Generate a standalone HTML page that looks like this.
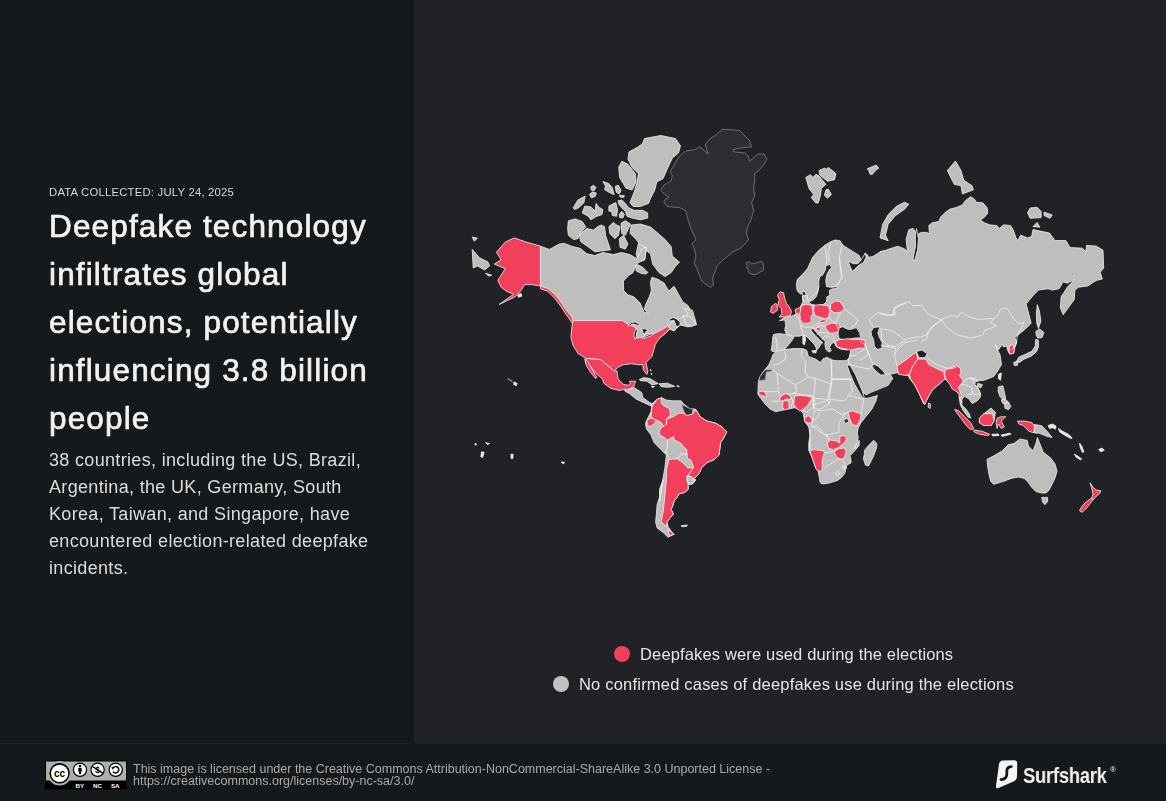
<!DOCTYPE html>
<html><head><meta charset="utf-8">
<style>
html,body{margin:0;padding:0;}
.date,.title,.body,.leg,.lic{will-change:transform;}
body{width:1166px;height:801px;overflow:hidden;background:#16191c;font-family:"Liberation Sans",sans-serif;position:relative;}
#left{position:absolute;left:0;top:0;width:414px;height:743px;background:#16191c;}
#right{position:absolute;left:414px;top:0;width:752px;height:743px;background:#212226;}
#sep{position:absolute;left:0;top:743px;width:1166px;height:1.3px;background:#1e2124;}
#footer{position:absolute;left:0;top:744.3px;width:1166px;height:57px;background:#16191c;}
.date{position:absolute;left:49px;top:185.6px;font-size:11.3px;color:#d8d8d8;letter-spacing:0.22px;white-space:nowrap;}
.title{position:absolute;left:49px;top:201.6px;font-size:31.5px;line-height:48px;font-weight:normal;color:#f2f2f2;-webkit-text-stroke:0.7px #f2f2f2;letter-spacing:1.15px;white-space:nowrap;}
.body{position:absolute;left:49px;top:447.2px;font-size:18px;line-height:27px;color:#dcdcdc;letter-spacing:0.33px;white-space:nowrap;}
.leg{position:absolute;font-size:16.5px;color:#e6e6e6;letter-spacing:0.15px;white-space:nowrap;}
.dot{position:absolute;width:16px;height:16px;border-radius:50%;}
.g{fill:#bebebe;stroke:#f0f0f0;stroke-width:0.8;stroke-linejoin:round}
.r{fill:#f2405c;stroke:#f0f0f0;stroke-width:0.8;stroke-linejoin:round}
.gl{fill:#2d2e33;stroke:#9c9c9c;stroke-width:0.6;stroke-linejoin:round}
.bay{fill:#212226;stroke:#f0f0f0;stroke-width:0.8;stroke-linejoin:round}
.w{fill:#e8e8e8;stroke:#f0f0f0;stroke-width:0.8}
.bayns{fill:#212226;stroke:none}
.b{fill:none;stroke:#f0f0f0;stroke-width:0.8;stroke-linejoin:round}
.lic{position:absolute;left:133px;top:763px;font-size:12.5px;line-height:12.4px;color:#a9a9a9;white-space:nowrap;}
</style></head>
<body>
<div id="left">
  <div class="date">DATA COLLECTED: JULY 24, 2025</div>
  <div class="title">Deepfake technology<br>infiltrates global<br>elections, potentially<br>influencing 3.8 billion<br>people</div>
  <div class="body">38 countries, including the US, Brazil,<br>Argentina, the UK, Germany, South<br>Korea, Taiwan, and Singapore, have<br>encountered election-related deepfake<br>incidents.</div>
</div>
<div id="right">
  <svg id="map" width="752" height="742" viewBox="414 0 752 742" style="position:absolute;left:0;top:0">
<path class="gl" d="M722.8,129.3 739.2,130.3 749.5,140.6 751.6,146.8 741.3,147.8 733.1,149.9 734.1,151.9 745.4,153.0 748.5,156.1 749.5,161.2 757.8,154.0 764.0,154.0 767.0,159.1 764.0,164.3 758.8,170.5 754.7,173.6 754.7,179.7 753.7,188.0 754.7,196.2 751.6,202.4 753.7,210.6 750.6,220.9 747.5,227.1 746.4,233.3 748.5,239.5 745.4,243.6 741.3,247.7 733.1,251.9 722.8,260.1 716.6,266.3 716.8,266.7 712.7,277.7 713.4,285.2 710.6,287.3 705.1,283.8 701.7,281.1 696.9,268.7 694.1,263.2 696.0,256.0 693.9,247.7 691.9,243.6 696.0,239.5 691.9,231.2 687.7,218.9 685.7,210.6 679.5,207.6 667.1,206.5 664.0,202.4 665.1,199.3 669.2,197.3 663.0,193.1 660.9,190.0 663.0,185.9 671.2,180.8 672.3,175.6 670.2,171.5 673.3,166.4 678.5,157.1 685.7,150.9 693.9,149.9 700.1,146.8 708.3,154.0 705.2,144.7 710.4,138.5 716.6,134.4Z"/>
<path class="g" d="M644.5,138.5 660.9,135.5 675.4,138.5 680.5,145.8 678.5,153.0 672.3,158.1 667.1,169.4 663.0,178.7 656.8,181.8 654.8,190.0 650.6,198.3 648.6,203.4 640.3,206.5 633.1,206.5 630.0,202.4 634.2,192.1 637.3,181.8 638.3,173.6 632.1,167.4 628.0,159.1 629.0,151.9 638.3,146.8 642.4,143.7Z"/>
<path class="g" d="M621.8,161.2 628.0,164.3 635.2,173.6 636.2,181.8 632.1,190.0 625.9,188.0 619.7,177.7 618.7,167.4Z"/>
<path class="g" d="M631.1,225.1 640.3,224.0 650.6,227.1 656.8,232.3 665.1,239.5 671.2,246.7 672.3,256.0 679.5,262.2 675.4,266.3 671.2,272.5 665.1,276.6 658.9,272.5 652.7,264.2 650.6,253.9 642.4,247.7 636.2,239.5 630.0,233.3Z"/>
<path class="g" d="M638.3,243.6 646.5,247.7 644.5,260.1 638.3,262.2 636.2,253.9Z"/>
<path class="g" d="M540.8,246.4 549.5,249.4 558.7,244.3 563.9,243.3 572.1,246.4 580.4,248.4 586.5,253.6 594.8,255.6 603.0,252.5 613.3,254.6 621.6,252.5 629.8,254.6 637.0,258.7 642.2,248.4 646.3,247.0 644.9,259.3 638.7,262.4 636.2,264.9 633.1,272.5 628.6,275.6 623.4,281.0 623.6,290.6 627.8,294.8 633.9,296.8 640.1,303.0 644.2,312.3 648.4,313.3 644.2,309.2 646.3,303.0 649.4,296.8 651.4,290.6 650.4,282.4 651.9,277.3 658.0,279.3 664.2,283.2 668.7,291.1 674.1,286.3 682.8,302.0 687.5,305.1 691.6,311.2 689.6,319.5 688.3,326.8 680.1,324.7 673.9,330.9 669.8,328.8 665.7,333.0 659.5,338.1 636.8,341.2 622.4,320.6 573.0,320.6 570.1,317.4 565.9,313.3 561.8,307.1 557.7,300.9 553.6,294.8 547.4,288.6 540.8,285.5Z"/>
<path class="g" d="M667.7,325.8 676.0,319.6 684.2,316.5 688.3,314.4 684.2,308.2 692.5,310.3 696.6,324.7 688.3,326.8 680.1,324.7 673.9,330.9 669.8,328.8Z"/>
<path class="g" d="M683.4,315.4 691.6,317.4 695.7,323.6 691.6,326.7 685.4,323.6Z"/>
<path class="g" d="M472.2,249.4 479.4,257.7 487.7,261.8 489.7,265.9 484.6,270.0 477.4,265.9 473.2,268.0Z"/>
<path class="g" d="M472.2,237.1 477.4,238.1 474.3,241.2Z"/>
<path class="g" d="M485.6,273.1 491.8,275.2 488.7,276.2Z"/>
<path class="r" d="M514.3,237.9 525.9,242.0 540.4,246.1 540.4,285.9 531.4,284.6 524.6,284.6 520.4,291.4 514.9,296.9 499.1,304.5 513.6,294.2 506.7,291.4 501.2,287.3 497.8,280.4 501.2,274.9 505.3,268.8 494.3,264.0 501.2,259.8 496.4,252.3 505.3,242.0Z"/>
<path class="r" d="M540.4,285.9 547.9,288.7 554.8,294.2 560.3,301.0 565.8,309.3 571.3,316.2 574.7,324.4 572.0,323.0 566.5,314.8 561.0,306.5 554.8,298.3 547.9,291.4 540.4,288.7Z"/>
<path class="w" d="M517.7,294.9 521.1,293.5 521.8,296.2 518.4,297.2Z"/>
<path class="r" d="M573.0,320.6 622.4,320.6 628.6,324.7 634.8,326.8 636.8,330.9 635.8,338.1 643.0,337.1 647.1,334.0 655.4,333.0 663.6,328.8 667.7,325.8 669.8,328.8 665.7,333.0 659.5,338.1 655.4,344.3 653.3,351.5 652.0,356.5 645.9,362.6 647.9,370.9 646.9,374.5 643.3,369.8 642.8,364.7 637.6,364.7 631.5,363.7 623.2,364.7 618.1,367.3 614.0,370.9 607.8,365.7 600.6,359.6 586.2,358.5 578.1,353.6 573.0,345.3 570.9,337.1 571.9,326.8Z"/>
<path class="r" d="M586.2,358.5 600.6,359.6 607.8,365.7 614.0,370.9 617.0,370.9 618.1,379.1 623.2,384.3 628.4,385.3 630.4,383.2 629.4,381.2 635.6,381.2 633.5,387.3 628.4,389.4 624.3,389.4 619.1,390.4 610.9,388.4 603.7,383.2 602.6,379.1 595.4,372.9 589.3,364.7 586.2,360.6Z"/>
<path class="r" d="M584.6,359.0 588.2,362.1 592.3,369.8 597.0,377.6 595.4,378.3 590.3,371.9 586.2,365.2Z"/>
<path class="g" d="M624.3,389.4 628.4,389.4 633.5,387.3 641.7,392.5 642.8,397.6 650.0,402.8 654.1,404.3 652.0,406.4 641.7,401.7 635.6,398.7 629.4,393.5 625.3,391.5Z"/>
<path class="g" d="M639.2,379.6 643.8,377.6 650.0,378.6 655.1,381.7 658.2,383.7 652.0,384.8 646.9,381.2 640.7,380.7Z"/>
<path class="g" d="M659.2,383.7 667.5,383.2 674.7,386.3 668.5,387.3 661.3,386.8Z"/>
<path class="w" d="M651.0,386.3 654.6,386.5 653.1,387.5Z"/>
<path class="w" d="M676.7,385.8 679.3,386.1 678.3,387.1Z"/>
<path class="w" d="M650.0,369.8 651.2,370.1 651.0,370.9Z"/>
<path class="w" d="M651.0,373.4 652.0,373.8 651.6,374.8Z"/>
<path class="g" d="M651.0,404.7 657.1,399.3 661.8,397.7 666.4,400.1 672.6,400.8 681.1,400.8 683.5,403.9 689.6,408.6 695.8,409.3 700.5,417.1 706.7,421.0 716.0,423.3 722.2,427.1 726.8,431.8 723.7,438.0 720.6,442.6 719.1,455.0 714.4,459.6 706.7,462.7 702.0,467.4 698.9,473.6 694.3,478.2 695.8,480.0 692.7,483.9 688.1,484.6 688.1,489.3 685.0,492.4 678.8,493.9 677.3,497.0 674.2,500.9 672.6,506.3 671.1,509.4 673.4,514.1 669.5,518.7 667.2,521.8 668.0,526.4 671.1,531.1 674.2,534.2 668.0,537.3 663.3,532.6 657.1,528.0 655.6,521.8 656.4,514.1 657.1,504.8 659.5,497.0 659.5,489.3 661.8,483.1 663.3,480.0 659.5,501.4 661.0,489.1 663.3,476.7 664.9,467.4 666.4,455.0 660.2,448.8 654.1,442.6 651.0,434.9 646.3,428.7 645.5,423.3 647.9,417.9 651.0,411.7 651.7,407.0Z"/>
<path class="gl" d="M681.9,404.7 688.1,407.8 692.7,409.3 692.0,414.8 686.6,415.5 684.2,411.7Z"/>
<path class="r" d="M651.7,407.0 657.1,399.3 661.8,397.7 661.0,402.4 663.3,405.5 669.5,408.6 670.3,414.8 666.4,419.4 666.4,425.6 664.1,427.1 661.8,423.3 658.7,421.0 654.1,419.4 651.0,416.3 651.7,411.7Z"/>
<path class="r" d="M647.1,420.2 651.7,417.9 655.6,420.2 654.8,423.3 650.2,426.4 647.1,424.8Z"/>
<path class="r" d="M666.4,419.4 674.2,416.3 678.8,413.2 683.5,413.2 686.6,415.5 692.7,414.0 695.8,410.1 700.5,417.1 706.7,421.0 716.0,423.3 722.2,427.1 726.8,431.8 723.7,438.0 720.6,442.6 719.1,455.0 714.4,459.6 706.7,462.7 702.0,467.4 698.9,473.6 694.3,478.2 691.2,481.3 688.1,475.3 693.6,467.4 690.8,459.8 687.4,458.5 686.7,449.5 684.0,447.5 681.2,443.4 674.3,439.9 673.7,436.5 667.5,439.9 664.0,437.2 660.6,435.8 659.2,432.4 660.6,428.2 666.8,424.1Z"/>
<path class="r" d="M668.8,459.8 672.3,459.1 677.8,459.1 682.6,462.6 688.1,468.1 693.6,467.4 688.1,475.3 688.1,475.9 686.6,479.8 688.1,484.6 688.1,489.3 685.0,492.4 678.8,493.9 677.3,497.0 674.2,500.9 672.6,506.3 671.1,509.4 673.4,514.1 669.5,518.7 667.2,521.8 666.4,526.4 661.0,521.8 663.3,511.0 664.9,495.5 666.4,480.0 666.4,470.5Z"/>
<path class="r" d="M668.0,529.5 674.2,534.2 669.5,535.7Z"/>
<path class="g" d="M686.6,475.9 692.0,476.7 694.3,481.3 691.2,484.4 688.1,482.9Z"/>
<path class="b" d="M667.5,439.9 667.5,446.1 666.1,451.6 669.5,459.8"/>
<path class="b" d="M678.5,458.5 681.2,453.7 687.4,454.3"/>
<path class="b" d="M666.1,451.6 664.0,452.3"/>
<path class="g" d="M681.1,525.7 687.3,524.9 686.6,526.4 681.9,526.7Z"/>
<path class="g" d="M776.5,350.8 785.1,349.5 793.8,348.6 802.4,348.6 806.7,350.3 808.4,356.4 815.3,358.9 820.5,362.4 823.0,358.9 827.4,357.2 830.8,359.8 836.8,360.7 846.3,360.7 849.7,357.2 850.3,354.3 848.5,363.7 849.9,370.6 855.4,378.8 859.5,385.7 862.3,391.2 864.3,397.4 866.4,398.1 871.9,396.7 877.4,395.3 876.0,400.8 871.9,409.1 866.4,415.9 860.9,422.8 858.1,428.3 857.4,432.4 858.1,437.9 856.8,443.4 854.0,448.9 859.2,440.3 859.2,445.4 854.1,451.6 850.0,455.7 851.0,459.8 851.0,462.9 846.9,465.0 845.9,469.1 844.8,473.2 841.7,477.3 837.6,480.4 829.4,483.0 822.2,484.0 820.1,482.5 819.1,476.3 818.1,471.2 815.0,466.0 812.9,459.8 810.9,454.7 808.8,450.6 808.8,445.4 809.8,441.3 810.9,436.2 809.8,430.0 810.1,450.3 808.7,443.4 810.1,435.2 808.7,426.9 804.6,421.4 803.2,413.2 800.4,410.4 794.9,407.7 788.1,409.1 781.2,410.4 775.7,411.8 770.2,409.1 764.7,403.6 760.6,398.1 757.9,394.0 758.4,381.3 760.2,376.2 764.5,370.1 768.8,365.0 771.4,358.9 773.1,354.6Z"/>
<path class="g" d="M864.4,450.6 868.5,445.4 873.7,440.3 876.7,443.4 876.7,447.5 873.7,455.7 870.6,461.9 868.5,466.0 865.4,465.0 863.4,458.8 864.4,453.7Z"/>
<path class="gl" d="M759.3,380.5 760.2,376.2 765.3,370.1 772.2,369.7 771.4,371.0 766.2,371.9 765.3,379.6 760.2,380.5Z"/>
<path class="b" d="M830.7,358.2 832.0,378.8 829.3,399.5 812.8,398.1 814.2,411.8 816.9,410.4 827.9,404.9 830.7,399.5 844.4,400.8 848.5,395.3 852.6,391.2 849.9,378.8 832.0,378.8"/>
<path class="b" d="M848.5,395.3 863.6,399.5 860.9,414.6"/>
<path class="b" d="M814.2,411.8 811.4,426.9 816.9,425.5 825.2,435.2 838.9,432.4 838.9,422.8 844.4,414.6 848.5,411.8"/>
<path class="b" d="M825.2,435.2 830.7,440.7"/>
<path class="b" d="M824.3,452.6 833.5,451.6"/>
<path class="b" d="M824.3,468.1 830.4,464.0 837.6,459.8 841.7,457.8"/>
<path class="b" d="M841.7,457.8 844.8,464.0 845.9,469.1"/>
<path class="bay" d="M843.7,419.4 847.8,418.7 848.8,422.1 845.1,423.5Z"/>
<path class="r" d="M809.8,450.6 814.0,449.6 823.2,450.6 824.3,452.6 822.2,459.8 822.2,470.7 819.1,471.2 816.0,469.1 814.0,462.9 811.9,456.8Z"/>
<path class="g" d="M848.5,363.7 855.4,362.4 863.6,365.1 871.9,366.5 876.0,370.6 882.9,374.0 888.1,372.7 891.1,375.4 892.9,379.1 888.4,385.7 878.7,389.8 871.9,392.6 866.4,395.3 862.3,391.2 858.1,383.0 852.6,373.4Z"/>
<path class="g" d="M773.6,351.7 771.2,350.8 772.1,344.8 772.8,337.0 773.6,334.5 778.8,333.6 786.5,334.5 784.8,330.1 785.7,325.0 784.8,319.8 779.6,320.7 784.8,317.2 790.8,316.4 795.1,314.6 797.7,312.9 799.5,308.6 801.2,305.2 802.9,301.7 802.4,296.0 814.5,296.0 835.1,240.0 842.0,244.3 845.5,246.9 852.4,251.2 859.2,255.5 861.0,259.8 857.5,263.3 853.2,263.3 848.9,261.5 849.8,265.8 852.4,271.0 854.9,268.4 859.2,265.0 862.7,262.4 865.3,252.9 869.6,257.2 873.0,256.4 880.0,252.1 880.0,251.6 885.5,250.3 893.7,247.5 897.9,246.2 904.7,248.9 907.5,251.6 906.1,239.3 908.8,229.7 913.0,228.3 915.7,232.4 917.1,237.9 918.5,233.8 921.2,232.4 926.7,232.4 929.5,233.8 928.8,225.5 932.2,222.8 939.1,221.4 940.4,217.3 945.9,211.8 950.1,209.1 955.5,207.7 962.4,204.9 965.2,200.8 970.7,196.7 974.8,199.5 976.2,202.2 983.0,202.9 987.1,207.7 987.8,213.2 984.4,217.3 980.3,220.1 984.4,222.8 989.9,224.9 996.8,225.5 999.5,228.3 1003.6,224.9 1010.5,225.5 1013.2,229.7 1016.0,237.9 1017.9,240.6 1020.6,235.1 1027.5,237.9 1031.6,236.5 1033.0,229.6 1049.5,233.0 1054.9,240.6 1065.9,240.6 1070.1,247.5 1082.4,248.2 1085.9,251.6 1086.5,245.4 1096.2,246.1 1103.0,250.2 1103.7,268.1 1100.3,272.2 1102.3,279.1 1096.2,280.4 1087.9,285.9 1078.3,287.3 1074.9,290.1 1074.2,299.7 1070.1,305.2 1063.2,314.8 1060.4,307.9 1061.1,296.9 1067.3,287.3 1074.9,279.1 1067.3,283.2 1063.2,281.8 1059.1,288.7 1052.2,290.1 1048.1,288.7 1038.5,290.1 1034.3,294.2 1026.1,303.8 1031.2,323.2 1025.0,329.4 1019.8,333.5 1014.7,337.6 1016.8,341.7 1014.7,347.9 1013.7,353.1 1009.6,354.1 1007.5,350.0 1006.5,345.9 1003.4,346.9 1002.3,343.8 1001.3,345.9 998.2,350.0 996.2,346.9 995.1,344.8 996.0,345.3 997.4,349.5 1000.1,354.9 1001.5,364.6 997.4,371.4 995.3,374.4 993.7,376.5 986.0,379.6 982.9,380.6 978.8,380.3 975.2,382.6 974.7,384.7 976.8,386.8 978.8,389.3 980.4,392.9 980.9,396.0 978.8,399.1 976.8,401.2 972.1,403.6 969.2,399.2 964.8,396.3 961.9,399.2 961.9,405.1 966.3,409.4 969.2,413.8 970.7,418.2 967.7,416.7 963.4,410.9 960.4,405.1 959.0,396.3 961.6,403.0 960.3,396.2 956.2,390.7 953.4,386.5 949.3,379.7 946.5,376.9 943.8,379.7 939.7,383.8 932.8,389.3 928.7,396.2 924.6,404.4 923.2,403.0 919.1,393.4 914.9,385.2 909.5,378.3 908.1,375.5 899.8,372.8 897.1,372.8 890.2,374.2 884.7,374.2 877.9,368.7 872.4,364.6 869.5,369.3 851.6,365.2 848.2,361.0 850.3,353.4 850.3,349.1 846.8,350.0 840.8,349.1 836.5,346.9 833.9,342.2 831.3,343.9 829.6,347.4 831.3,350.8 828.7,352.1 825.7,349.1 824.9,343.9 825.3,341.3 822.3,338.8 818.0,334.0 812.8,328.4 810.7,330.1 815.0,335.3 819.3,339.6 822.7,342.6 820.6,344.8 818.4,348.2 816.7,350.0 815.8,346.9 813.2,343.1 808.9,338.8 804.6,334.5 799.5,336.2 794.3,336.2 792.6,339.6 790.0,343.1 784.8,349.1 777.9,350.8Z"/>
<path class="g" d="M797.2,279.6 802.4,274.5 807.6,268.4 812.7,257.2 818.8,250.3 824.8,245.2 830.8,241.7 835.1,240.0 840.3,240.9 842.0,244.3 839.4,257.2 840.3,265.8 842.0,277.0 838.6,283.1 836.0,286.5 831.7,288.2 826.5,287.4 824.8,293.4 820.5,296.0 817.9,299.4 814.5,302.0 811.0,302.9 808.4,300.3 806.7,295.1 805.0,291.7 800.7,294.3 797.2,290.8 796.4,284.8Z"/>
<path class="bay" d="M825.7,265.8 830.0,264.5 831.7,267.6 829.1,270.1 826.9,274.5 825.7,280.5 826.5,286.5 831.7,287.4 836.8,286.5 837.3,288.2 831.7,289.1 829.1,290.8 830.0,295.1 826.9,296.8 826.5,302.0 823.1,304.6 816.2,305.5 811.0,304.2 808.4,302.0 812.7,300.3 816.2,296.8 817.9,291.7 818.8,286.5 818.8,281.3 819.6,277.0 823.1,274.5 825.7,269.3Z"/>
<path class="bay" d="M801.5,291.7 805.0,291.7 807.6,298.6 805.8,299.4 803.3,296.0Z"/>
<path class="g" d="M802.4,296.0 805.8,295.1 807.6,300.3 805.8,302.0 803.3,300.3Z"/>
<path class="bay" d="M848.0,261.1 853.2,263.7 858.0,263.7 861.4,259.8 865.3,252.9 866.1,257.2 863.5,262.4 859.2,265.0 854.9,268.9 852.4,271.4 849.8,265.8Z"/>
<path class="bay" d="M871.0,331.6 873.7,327.5 879.9,326.8 877.9,333.0 879.2,337.1 882.0,342.6 882.0,348.1 877.9,349.5 874.4,346.7 873.7,339.8 871.7,335.7Z"/>
<path class="bay" d="M847.1,365.1 849.9,373.4 854.7,384.3 859.5,392.6 862.9,398.1 864.3,397.4 862.3,391.2 859.5,384.3 855.4,374.7 849.9,365.1Z"/>
<path class="bayns" d="M863.6,396.7 871.9,392.6 878.7,389.8 888.4,385.7 892.5,379.5 900.2,381.6 900.2,391.2 877.4,395.1 871.9,396.4 866.4,398.1Z"/>
<path class="bay" d="M872.4,363.9 877.9,365.9 884.0,372.1 885.4,374.9 880.6,374.9 876.5,371.4 873.0,368.0Z"/>
<path class="bay" d="M916.3,351.5 921.8,350.1 927.3,353.6 924.6,357.7 919.1,357.7Z"/>
<path class="g" d="M880.0,237.9 882.7,224.2 888.2,214.6 896.5,206.3 904.7,202.2 908.8,204.3 904.7,209.1 895.1,215.9 888.2,224.2 885.5,235.2 888.2,240.7Z"/>
<path class="g" d="M947.3,170.6 955.5,161.0 961.0,170.6 963.8,180.2 972.0,185.7 973.4,189.8 962.4,194.0 961.0,185.7 954.2,184.3 950.1,176.1Z"/>
<path class="g" d="M1027.5,212.8 1030.2,208.0 1037.1,207.3 1041.2,211.4 1041.2,217.6 1030.2,218.3Z"/>
<path class="g" d="M1044.0,212.1 1052.2,214.9 1050.1,218.3 1044.0,215.5Z"/>
<path class="g" d="M1033.0,226.5 1037.1,222.4 1039.8,227.2Z"/>
<path class="g" d="M1037.3,304.7 1039.4,310.9 1040.9,321.2 1038.4,328.4 1036.8,323.2 1036.3,314.0Z"/>
<path class="g" d="M1035.8,331.5 1039.4,328.9 1044.0,332.5 1042.0,337.6 1037.9,338.1 1036.3,335.6Z"/>
<path class="g" d="M1016.2,362.0 1018.8,357.2 1026.0,354.1 1032.2,351.0 1035.3,345.9 1035.8,339.2 1038.4,340.2 1038.4,346.9 1036.3,352.0 1031.2,356.2 1024.0,359.2 1019.8,362.3Z"/>
<path class="g" d="M1013.7,362.3 1018.3,361.3 1017.3,365.4 1014.2,365.4Z"/>
<path class="g" d="M998.4,386.8 1002.8,385.8 1004.3,391.9 1005.7,398.5 1002.8,399.9 999.9,396.3 998.1,391.2Z"/>
<path class="g" d="M1001.3,399.9 1005.0,399.2 1007.9,401.4 1006.5,404.3 1002.8,403.6Z"/>
<path class="g" d="M1004.3,402.9 1008.6,402.1 1010.8,406.5 1008.6,409.7 1005.0,408.3Z"/>
<path class="g" d="M977.7,383.4 982.4,384.6 980.9,387.8 977.2,386.4Z"/>
<path class="g" d="M979.4,418.2 983.8,413.8 991.1,408.0 995.5,412.4 994.0,421.1 991.1,425.5 983.8,425.5 979.4,422.6Z"/>
<path class="g" d="M987.0,459.4 995.1,455.1 1002.4,450.7 1008.2,444.8 1014.0,443.4 1019.9,439.0 1027.2,440.4 1028.6,446.3 1033.0,450.7 1035.9,443.4 1037.4,437.5 1040.3,444.8 1043.2,452.1 1050.6,458.0 1054.9,463.8 1057.1,471.1 1054.9,478.4 1052.0,484.3 1049.1,490.1 1046.2,493.0 1041.8,493.0 1035.9,491.6 1031.6,487.2 1028.6,482.8 1024.3,478.4 1018.4,477.0 1011.1,478.4 1003.8,481.3 993.6,484.3 990.7,481.3 989.2,475.5 987.7,466.7Z"/>
<path class="g" d="M1041.8,497.4 1047.6,497.4 1047.6,501.8 1044.7,504.7 1042.5,501.8Z"/>
<path class="g" d="M1034.5,424.4 1041.8,425.8 1047.6,431.7 1052.0,437.5 1046.2,436.1 1038.9,433.1 1034.5,433.1Z"/>
<path class="gl" d="M746.3,262.6 749.1,261.9 751.8,263.9 755.2,263.2 761.4,261.2 762.8,262.6 763.8,268.0 762.8,270.8 757.3,273.5 753.9,274.9 749.1,272.9 747.7,270.8 749.1,269.4 746.3,268.0 747.7,266.0 746.3,263.9Z"/>
<path class="r" d="M897.1,365.9 905.3,360.4 912.2,354.9 916.3,352.2 917.7,359.1 912.2,367.3 909.5,374.2 905.3,375.5 898.5,374.2Z"/>
<path class="r" d="M917.7,359.1 925.9,359.1 928.7,364.6 934.2,367.3 942.4,371.4 946.5,371.4 953.4,368.7 954.8,367.3 957.5,371.4 953.4,376.9 947.9,376.9 943.8,379.7 939.7,383.8 932.8,389.3 928.7,396.2 924.6,404.4 920.4,396.2 914.9,385.2 910.8,379.7 909.5,374.2 912.2,367.3Z"/>
<path class="r" d="M943.8,372.8 947.9,372.8 949.3,379.7 945.2,379.7Z"/>
<path class="r" d="M944.9,370.3 950.0,368.2 953.1,366.7 956.7,365.7 960.3,368.2 961.1,372.9 959.3,375.4 963.9,381.6 960.8,384.2 958.2,387.8 959.8,390.9 962.4,399.1 961.1,399.9 958.7,392.9 954.6,390.4 952.1,388.8 950.0,384.7 946.9,380.6 944.9,375.4Z"/>
<path class="r" d="M928.7,403.0 930.7,404.4 930.1,408.5 928.0,407.1Z"/>
<path class="r" d="M1009.6,345.9 1012.6,344.8 1014.7,347.9 1013.7,353.1 1010.1,354.1 1009.0,351.0Z"/>
<path class="w" d="M998.4,374.4 1001.3,372.9 1000.6,380.2 998.4,378.8Z"/>
<path class="r" d="M954.6,409.4 959.0,410.9 964.8,416.7 970.7,422.6 973.6,428.4 970.7,429.9 966.3,425.5 961.9,419.7 957.5,413.8Z"/>
<path class="r" d="M973.6,429.9 982.4,431.3 989.7,434.3 988.2,435.7 979.4,434.3 974.3,432.1Z"/>
<path class="r" d="M979.4,418.2 983.8,413.8 992.6,413.8 994.0,421.1 991.1,425.5 983.8,425.5 979.4,422.6Z"/>
<path class="r" d="M997.0,418.2 1001.3,416.7 1005.7,416.7 1001.3,421.1 1004.3,427.0 1001.3,428.4 998.4,424.0 997.0,428.4 996.2,422.6Z"/>
<path class="r" d="M1017.4,421.1 1024.7,421.1 1032.0,422.6 1034.9,427.0 1033.5,432.8 1029.1,431.3 1023.2,425.5 1018.9,424.0Z"/>
<path class="r" d="M1090.0,482.8 1093.6,487.9 1096.6,490.1 1100.9,490.8 1099.5,493.8 1095.8,496.7 1093.6,499.6 1091.4,498.9 1092.9,494.5 1092.2,490.1Z"/>
<path class="r" d="M1091.4,498.1 1092.9,500.0 1089.3,504.7 1085.6,509.1 1082.0,512.3 1079.5,510.6 1082.0,506.2 1086.3,501.8Z"/>
<path class="g" d="M805.8,177.4 810.5,174.7 812.8,177.4 815.9,174.3 819.0,175.9 826.0,184.4 821.3,188.3 820.5,195.2 818.2,203.0 815.9,203.0 811.3,197.6 813.6,194.5 808.9,188.3Z"/>
<path class="g" d="M819.0,170.5 824.4,168.2 826.7,168.9 828.3,167.4 836.0,173.6 834.5,179.8 827.5,181.3 823.6,178.2 819.8,175.1Z"/>
<path class="g" d="M824.4,195.2 826.0,189.8 828.3,189.1 831.4,194.5 827.5,198.3Z"/>
<path class="g" d="M867.0,168.9 872.4,166.6 876.3,165.1 878.6,168.2 875.5,170.5 872.4,174.3 870.1,174.3 868.5,169.7Z"/>
<path class="bay" d="M838.2,328.4 842.5,326.7 847.7,329.3 851.1,329.3 856.3,327.6 859.7,332.7 860.6,337.9 855.4,337.9 851.1,338.8 844.2,339.6 839.1,338.8 838.2,334.5Z"/>
<path class="w" d="M802.9,335.3 805.1,335.3 805.5,339.6 804.6,344.8 802.9,343.9Z"/>
<path class="w" d="M811.9,350.8 816.7,350.4 815.8,353.0 812.8,352.5Z"/>
<path class="b" d="M786.5,334.5 792.6,336.2"/>
<path class="b" d="M775.5,336.9 776.6,341.3 776.9,349.2"/>
<path class="b" d="M795.1,314.6 799.5,319.8 800.3,325.0 801.2,328.4 802.9,331.0 802.9,334.5"/>
<path class="b" d="M800.3,325.0 805.5,327.6 811.5,326.7 816.7,324.1 820.1,322.8"/>
<path class="b" d="M811.5,326.7 815.0,328.4 820.1,325.8 825.3,325.8"/>
<path class="b" d="M816.7,334.5 820.1,332.7 825.3,332.7 830.5,333.2 833.9,336.2 833.9,342.2"/>
<path class="b" d="M821.8,339.6 825.3,336.2 828.7,336.2 830.5,337.9"/>
<path class="b" d="M844.2,308.6 851.1,313.8 858.0,319.8 855.4,325.0 851.1,327.6"/>
<path class="b" d="M828.7,317.2 830.5,319.8 835.6,322.4 840.8,312.1"/>
<path class="b" d="M865.0,350.0 859.7,351.7 856.3,355.1 851.1,356.0 850.3,353.4"/>
<path class="b" d="M839.4,257.2 840.3,265.8 842.0,277.0 838.6,283.1 836.0,286.5"/>
<path class="b" d="M830.8,241.7 828.2,252.9 829.1,262.4"/>
<path class="b" d="M824.8,245.2 826.5,257.2 826.5,264.1"/>
<path class="b" d="M818.8,286.5 817.0,291.7 808.4,300.3"/>
<path class="r" d="M780.1,291.8 783.6,292.7 784.5,297.9 786.3,303.2 788.9,306.6 791.4,311.0 790.6,315.4 784.5,316.8 779.2,317.1 781.9,313.6 781.0,308.4 777.9,305.2 779.2,299.7 777.5,295.3Z"/>
<path class="r" d="M771.4,306.6 775.8,303.2 777.1,305.2 777.5,310.2 773.1,313.4 770.5,311.9Z"/>
<path class="r" d="M795.1,309.5 799.5,307.6 800.7,308.6 800.5,312.9 797.7,313.8 795.6,312.9Z"/>
<path class="r" d="M801.2,306.0 805.5,304.3 811.5,305.2 812.8,311.2 812.8,313.8 810.7,317.2 811.5,321.5 808.1,323.3 802.9,323.3 800.3,319.8 799.9,313.8Z"/>
<path class="r" d="M814.1,305.2 821.0,304.7 828.7,306.0 829.6,310.3 828.7,317.2 825.3,318.9 820.1,317.2 815.0,315.5 813.7,311.2Z"/>
<path class="r" d="M830.5,304.3 835.6,300.9 839.9,301.7 842.5,305.2 844.2,308.6 840.8,312.1 833.9,312.9 830.5,309.5Z"/>
<path class="r" d="M819.3,320.7 825.3,318.9 827.0,319.8 823.6,322.4 820.1,322.8Z"/>
<path class="r" d="M825.3,325.8 830.5,323.3 834.8,323.3 838.2,325.8 839.1,330.1 835.6,332.7 830.5,333.2 826.2,329.3Z"/>
<path class="r" d="M835.6,322.4 838.2,323.3 839.9,326.7 838.2,328.4Z"/>
<path class="r" d="M816.7,327.6 819.3,327.6 821.0,329.3 818.4,331.0 815.8,330.1Z"/>
<path class="r" d="M835.6,341.3 839.9,339.6 846.8,338.8 854.6,339.6 860.6,339.6 865.0,340.5 865.0,348.2 858.0,348.2 851.1,350.0 846.0,349.1 840.8,348.2 836.5,346.5Z"/>
<path class="b" d="M880.0,312.8 888.2,314.9 895.1,314.9 894.4,307.3 900.6,304.6 908.8,301.8 913.0,305.9 921.2,305.2 928.1,314.2 937.7,318.3 941.8,319.7 951.4,315.5 958.3,316.9 961.0,312.1 969.3,316.9 978.9,319.7 989.9,318.3 994.0,319.0 998.1,314.2 1000.9,308.7 1007.7,308.7 1011.9,316.9 1018.7,323.8 1024.2,322.4 1020.1,330.7 1017.4,336.2 1016.0,344.4 1011.9,350.0"/>
<path class="b" d="M941.8,319.7 947.3,327.9 956.9,334.8 970.7,338.2 983.0,334.8 984.4,330.7 996.8,325.9 989.9,322.4 994.0,319.0"/>
<path class="b" d="M941.8,319.7 937.7,322.4 932.2,327.9 928.1,333.4 926.7,338.9 921.2,341.6"/>
<path class="b" d="M880.6,328.8 887.5,329.5 893.0,331.6 899.8,335.7 904.0,339.8 909.5,338.5 914.9,337.1 920.4,337.1 927.3,334.3 928.7,330.2 934.2,324.7 941.0,320.6"/>
<path class="b" d="M869.6,319.2 877.9,312.4 884.7,315.1 893.0,315.1 894.3,308.2 906.7,302.7"/>
<path class="b" d="M880.6,328.8 882.0,339.8 887.5,345.3 895.7,346.7 901.2,342.6 905.3,341.2"/>
<path class="b" d="M880.6,345.3 887.5,346.7 895.7,348.1 894.3,354.9 897.1,365.9"/>
<path class="b" d="M894.3,354.9 898.5,348.1 905.3,342.6 912.2,341.2 917.7,339.8"/>
<path class="b" d="M865.5,345.3 868.2,352.2 872.4,363.2"/>
<path class="b" d="M927.3,357.7 934.2,363.2 943.8,367.3 950.7,368.7 956.2,367.3"/>
<path class="b" d="M961.6,382.4 968.5,378.3 974.0,379.7 979.5,381.0"/>
<path class="b" d="M860.0,360.4 868.2,354.9 865.5,345.3 860.0,341.2"/>
<path class="g" d="M635.5,265.5 637.9,264.8 642.5,267.1 647.9,272.5 645.6,274.1 641.0,273.3 636.3,271.0Z"/>
<path class="bay" d="M627.7,325.6 631.8,322.5 635.4,322.0 639.6,324.6 638.5,325.6 635.4,324.6 632.4,324.0 629.3,326.1Z"/>
<path class="bay" d="M634.4,331.8 636.5,329.2 637.5,329.7 636.5,333.8 636.0,338.5 634.9,339.0 633.9,335.9Z"/>
<path class="bay" d="M641.6,328.7 645.7,328.7 647.8,330.7 645.7,331.8 644.7,333.8 642.6,332.8 642.6,330.7Z"/>
<path class="bay" d="M642.6,337.9 646.8,335.9 648.8,334.9 651.9,333.8 653.5,334.3 650.9,335.9 645.7,337.9 643.2,339.0Z"/>
<path class="bay" d="M668.4,319.9 673.0,317.4 676.6,318.9 678.2,320.4 680.0,321.5 680.0,325.6 676.6,326.6 675.6,324.6 674.0,320.4 668.9,321.0Z"/>
<path class="b" d="M773.1,365.8 779.1,363.3 786.0,358.9 785.1,353.8 784.3,351.2"/>
<path class="b" d="M772.2,369.7 777.4,373.6 795.5,384.8 808.4,377.0 805.0,371.9 805.8,362.4 800.7,355.5 802.4,349.5"/>
<path class="b" d="M777.4,373.6 778.3,391.7 766.2,391.7 760.2,391.7"/>
<path class="b" d="M808.4,377.0 814.4,377.9 830.8,383.9 831.7,380.5 831.7,360.7"/>
<path class="b" d="M831.7,379.6 851.5,379.6"/>
<path class="b" d="M795.5,384.8 796.3,391.7 792.9,393.4 813.6,396.0 815.3,383.1 814.4,377.9"/>
<path class="b" d="M830.8,383.9 829.1,391.7 827.4,400.3 829.9,403.7"/>
<path class="b" d="M813.6,396.0 812.7,405.5 827.4,400.3"/>
<path class="b" d="M778.3,391.7 780.8,396.8 792.9,393.4"/>
<path class="bay" d="M916.5,228.7 918.5,238.6 917.5,250.4 914.5,261.3 913.1,258.4 915.4,246.6 915.4,234.6Z"/>
<path class="w" d="M991.8,434.3 998.4,434.0 999.1,435.4 992.6,436.0Z"/>
<path class="w" d="M1001.3,435.0 1010.1,433.1 1010.8,434.3 1002.1,436.5Z"/>
<path class="w" d="M1048.1,425.5 1052.5,424.0 1056.1,426.2 1055.4,429.1 1052.5,427.7 1049.5,428.4Z"/>
<path class="w" d="M1058.3,428.4 1062.7,431.3 1068.5,434.3 1072.2,437.9 1070.7,438.6 1065.6,435.7 1059.8,432.1Z"/>
<path class="w" d="M1074.4,454.0 1078.0,456.2 1081.7,459.1 1080.2,459.8 1075.8,456.9Z"/>
<path class="w" d="M1079.5,443.0 1081.7,445.9 1083.9,451.8 1082.4,452.5 1080.2,447.4Z"/>
<path class="w" d="M1098.5,449.6 1102.1,448.1 1104.3,450.3 1100.7,451.8Z"/>
<path class="g" d="M835.6,473.2 837.6,471.2 839.7,472.7 838.7,475.3 836.6,475.3Z"/>
<path class="g" d="M842.3,466.5 844.3,466.0 844.8,468.1 843.0,469.1Z"/>
<path class="r" d="M758.4,392.6 761.9,390.9 765.3,392.6 766.6,396.0 764.5,396.5 761.0,395.2 758.4,394.3Z"/>
<path class="r" d="M779.5,398.2 782.6,395.2 786.0,393.4 789.5,395.2 791.2,397.8 789.5,399.5 786.0,399.0 783.4,400.8 780.8,401.2Z"/>
<path class="r" d="M783.0,400.8 788.6,400.8 789.0,407.2 786.9,409.4 784.3,409.8 782.6,407.2Z"/>
<path class="r" d="M794.6,396.0 799.8,395.6 806.7,396.0 812.7,397.8 810.1,401.2 807.5,405.5 803.2,408.9 799.8,411.1 796.3,408.1 793.8,404.6 794.2,399.5Z"/>
<path class="r" d="M805.0,417.6 808.4,415.8 811.0,417.6 812.3,421.0 810.1,423.2 806.7,422.7 804.5,420.1Z"/>
<path class="r" d="M848.2,411.8 852.6,410.9 858.4,412.9 861.2,414.6 860.5,418.7 856.8,425.8 852.4,424.5 849.6,418.7Z"/>
<path class="r" d="M827.4,442.5 830.8,440.0 836.0,440.8 839.8,443.0 839.8,436.5 844.6,435.2 846.5,439.1 844.6,442.5 840.3,446.0 836.8,448.6 832.5,449.6 828.2,447.9Z"/>
<path class="r" d="M834.2,452.0 838.5,448.7 844.6,447.9 845.9,452.0 844.6,457.2 842.0,459.3 836.8,457.6Z"/>
<path class="b" d="M803.2,410.7 806.7,412.4 813.6,407.2 815.3,402.9 813.6,397.8"/>
<path class="b" d="M813.6,407.2 820.5,410.7 832.5,408.9 841.1,414.1 846.3,413.3"/>
<path class="b" d="M811.0,426.2 815.3,427.9 820.5,432.2 826.5,434.8 829.1,440.0"/>
<path class="b" d="M812.3,421.0 817.0,418.4 819.6,412.4"/>
<path class="b" d="M772.2,401.2 775.7,401.2 779.1,401.2"/>
<path class="b" d="M791.2,397.8 792.9,401.2 791.2,407.2"/>
<path class="w" d="M513.8,382.0 517.2,383.4 516.1,385.8 513.8,384.5Z"/>
<path class="b" d="M507.6,378.5 510.3,380.3 512.4,381.3"/>
<path class="w" d="M474.9,443.5 476.7,444.1 475.3,445.4Z"/>
<path class="w" d="M485.6,442.7 489.5,443.5 487.7,444.6Z"/>
<path class="w" d="M481.5,451.8 484.2,452.3 482.6,457.5 480.8,456.8Z"/>
<path class="w" d="M511.0,454.1 513.1,454.2 512.8,458.6 511.0,458.4Z"/>
<path class="w" d="M561.2,461.9 564.6,462.3 563.2,464.1Z"/>
<path class="b" d="M963.9,381.6 967.0,378.5 972.1,377.5 975.7,379.0 978.3,381.6"/>
<path class="b" d="M972.1,377.5 973.2,383.2 977.3,386.8 979.9,393.5"/>
<path class="b" d="M960.8,384.2 964.4,384.7 968.0,385.7 971.6,386.8 972.1,390.9 973.2,393.5 976.8,395.0 979.9,393.5"/>
<path class="b" d="M967.0,395.0 973.2,393.5"/>
<path class="g" d="M590.8,187.1 593.4,185.3 596.0,187.5 594.3,190.5 591.3,190.1Z"/>
<path class="g" d="M589.5,194.4 592.6,191.8 596.4,193.1 595.1,196.5 591.3,197.8Z"/>
<path class="g" d="M573.2,207.7 577.9,200.0 585.2,196.1 583.9,202.6 578.8,207.7 574.5,209.5Z"/>
<path class="g" d="M582.2,212.9 584.8,206.0 590.8,206.9 595.1,211.2 596.0,203.4 599.5,207.7 602.9,209.5 602.0,214.6 596.9,216.3 590.8,219.8 588.3,216.3Z"/>
<path class="g" d="M602.9,181.5 608.9,183.6 612.4,187.9 614.1,194.8 608.9,192.2 604.6,189.6 605.5,186.2Z"/>
<path class="g" d="M615.4,186.2 618.4,185.3 621.0,190.5 619.3,193.9 616.2,192.2Z"/>
<path class="g" d="M619.3,195.2 624.4,195.7 623.6,197.4 620.1,197.0Z"/>
<path class="g" d="M608.9,206.0 615.8,202.6 617.5,209.5 616.7,216.3 612.4,215.5 611.5,211.2 608.9,211.2Z"/>
<path class="g" d="M618.0,200.8 621.8,200.0 625.3,203.4 628.7,207.7 633.9,210.3 642.5,210.3 647.7,212.9 647.7,218.1 640.8,219.8 632.2,218.1 627.0,216.3 625.3,211.2 621.8,207.7 618.8,204.3Z"/>
<path class="g" d="M619.3,214.6 621.8,211.2 624.4,214.6 622.7,218.1 619.7,217.6Z"/>
<path class="g" d="M568.4,220.7 575.3,218.9 582.2,221.5 585.7,226.7 580.5,233.6 577.9,238.7 573.6,239.6 568.4,235.3 567.6,228.4Z"/>
<path class="g" d="M579.6,235.3 586.5,228.4 593.4,230.1 597.7,226.7 601.2,225.0 604.6,226.7 605.5,235.3 610.5,249.8 595.0,251.8 580.6,241.5Z"/>
<path class="g" d="M608.9,226.7 613.2,222.4 616.7,225.0 620.1,226.7 618.4,235.3 615.0,238.7 609.8,233.6Z"/>
<path class="g" d="M621.0,223.2 625.3,220.7 630.5,224.1 625.3,235.3 621.8,233.6Z"/>
<path class="g" d="M619.3,238.7 623.6,235.3 627.9,244.0 625.3,249.1 620.1,247.4Z"/>
<path class="b" d="M869.5,319.5 870.2,322.6 873.7,327.4"/>
  </svg>
</div>
<div class="dot" style="left:614px;top:646px;background:#f2405c"></div>
<div class="leg" style="left:640px;top:645px">Deepfakes were used during the elections</div>
<div class="dot" style="left:553px;top:676px;background:#c2c2c2"></div>
<div class="leg" style="left:579px;top:675px;letter-spacing:0.2px">No confirmed cases of deepfakes use during the elections</div>
<div id="sep"></div>
<div id="footer"></div>
<svg style="position:absolute;left:45px;top:760px" width="82" height="30" viewBox="0 0 82 30">
<rect x="0" y="0.5" width="82" height="29" fill="#000"/>
<rect x="1" y="1.5" width="80" height="19" fill="#abb1aa"/>
<circle cx="14.6" cy="13.3" r="12.2" fill="#abb1aa"/>
<circle cx="14.6" cy="13.3" r="10.2" fill="#000"/>
<circle cx="14.6" cy="13.3" r="8.6" fill="#fff"/>
<text x="14.6" y="16.8" font-family="Liberation Sans" font-weight="bold" font-size="10" text-anchor="middle" fill="#000">cc</text>
<circle cx="35" cy="9.8" r="7.2" fill="#000"/><circle cx="35" cy="9.8" r="6" fill="#fff"/>
<circle cx="35" cy="6" r="1.3" fill="#000"/><rect x="33.3" y="7.8" width="3.4" height="4" fill="#000"/><rect x="34" y="11" width="2" height="3.2" fill="#000"/>
<circle cx="52.6" cy="9.8" r="7.2" fill="#000"/><circle cx="52.6" cy="9.8" r="6" fill="#fff"/>
<text x="52.6" y="13" font-family="Liberation Sans" font-weight="bold" font-size="9" text-anchor="middle" fill="#000">$</text>
<line x1="47.5" y1="6.5" x2="57.7" y2="13.1" stroke="#000" stroke-width="1.3"/>
<circle cx="70.7" cy="9.8" r="7.2" fill="#000"/><circle cx="70.7" cy="9.8" r="6" fill="#fff"/>
<path d="M67.8,8.2 A3.2,3.2 0 1 1 68,11.6" fill="none" stroke="#000" stroke-width="1.5"/>
<path d="M66.3,7.2 L69.4,7.2 L67.8,9.8 Z" fill="#000"/>
<text x="34.8" y="27.6" font-family="Liberation Sans" font-weight="bold" font-size="6.2" text-anchor="middle" fill="#fff">BY</text>
<text x="52.4" y="27.6" font-family="Liberation Sans" font-weight="bold" font-size="6.2" text-anchor="middle" fill="#fff">NC</text>
<text x="70.3" y="27.6" font-family="Liberation Sans" font-weight="bold" font-size="6.2" text-anchor="middle" fill="#fff">SA</text>
</svg>
<svg style="position:absolute;left:994px;top:759px" width="24" height="31" viewBox="0 0 24 31">
<path d="M9,1.5 L20,1.2 Q23.2,1.2 23.2,4.5 L23,17 Q23,21 19.5,22.5 L4.5,29 Q1.8,30 2,27 L5,5 Q5.8,1.6 9,1.5 Z" fill="#f4f4f4"/>
<path d="M17.3,7.6 C14.6,7.6 12.8,9.5 12.8,12.5 C12.8,14.5 13.3,16.5 11.8,18.5 C10.5,20.1 8.6,20.6 7,20.6" fill="none" stroke="#16191c" stroke-width="2.8" stroke-linecap="round"/>
</svg>
<div style="position:absolute;left:1023px;top:764.8px;font-size:22px;line-height:22px;font-weight:bold;color:#f2f2f2;white-space:nowrap;transform:scaleX(0.83);transform-origin:0 0;letter-spacing:-0.2px;will-change:transform">Surfshark</div>
<div style="position:absolute;left:1109.5px;top:766px;font-size:8px;line-height:8px;color:#f2f2f2;will-change:transform">&#174;</div>
<div class="lic">This image is licensed under the Creative Commons Attribution-NonCommercial-ShareAlike 3.0 Unported License -<br>https://creativecommons.org/licenses/by-nc-sa/3.0/</div>
</body></html>
